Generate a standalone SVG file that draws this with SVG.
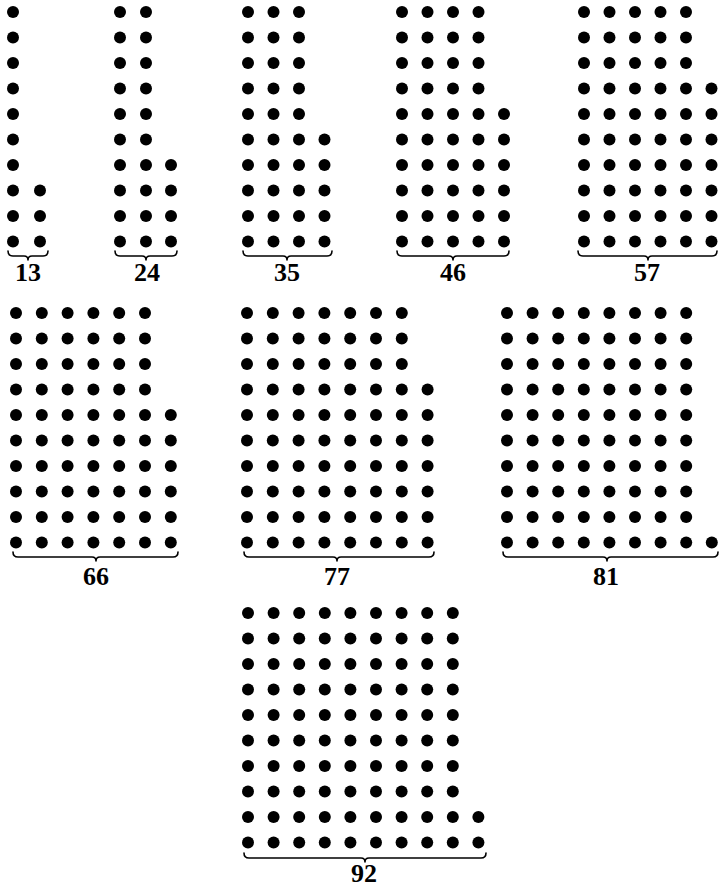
<svg xmlns="http://www.w3.org/2000/svg" xmlns:xlink="http://www.w3.org/1999/xlink" width="719" height="888" viewBox="0 0 719 888">
<style>
.d{fill:#000}
.lbl{font-family:"Liberation Serif","DejaVu Serif",serif;font-weight:bold;font-size:26px;fill:#000;text-anchor:middle}
.br{fill:none;stroke:#000;stroke-width:1.6;stroke-linecap:round;stroke-linejoin:round}
</style>
<defs>
<g id="c10" class="d"><circle cx="0" cy="0" r="6"/><circle cx="0" cy="25.5" r="6"/><circle cx="0" cy="51" r="6"/><circle cx="0" cy="76.5" r="6"/><circle cx="0" cy="102" r="6"/><circle cx="0" cy="127.5" r="6"/><circle cx="0" cy="153" r="6"/><circle cx="0" cy="178.5" r="6"/><circle cx="0" cy="204" r="6"/><circle cx="0" cy="229.5" r="6"/></g>
<g id="c7" class="d"><circle cx="0" cy="76.5" r="6"/><circle cx="0" cy="102" r="6"/><circle cx="0" cy="127.5" r="6"/><circle cx="0" cy="153" r="6"/><circle cx="0" cy="178.5" r="6"/><circle cx="0" cy="204" r="6"/><circle cx="0" cy="229.5" r="6"/></g>
<g id="c6" class="d"><circle cx="0" cy="102" r="6"/><circle cx="0" cy="127.5" r="6"/><circle cx="0" cy="153" r="6"/><circle cx="0" cy="178.5" r="6"/><circle cx="0" cy="204" r="6"/><circle cx="0" cy="229.5" r="6"/></g>
<g id="c5" class="d"><circle cx="0" cy="127.5" r="6"/><circle cx="0" cy="153" r="6"/><circle cx="0" cy="178.5" r="6"/><circle cx="0" cy="204" r="6"/><circle cx="0" cy="229.5" r="6"/></g>
<g id="c4" class="d"><circle cx="0" cy="153" r="6"/><circle cx="0" cy="178.5" r="6"/><circle cx="0" cy="204" r="6"/><circle cx="0" cy="229.5" r="6"/></g>
<g id="c3" class="d"><circle cx="0" cy="178.5" r="6"/><circle cx="0" cy="204" r="6"/><circle cx="0" cy="229.5" r="6"/></g>
<g id="c2" class="d"><circle cx="0" cy="204" r="6"/><circle cx="0" cy="229.5" r="6"/></g>
<g id="c1" class="d"><circle cx="0" cy="229.5" r="6"/></g>
</defs>

<g id="fig13">
<use href="#c10" x="13" y="12"/><use href="#c3" x="40" y="12"/>
<path class="br" d="M8,251 Q8,256 13,256 L24,256 Q28,256 28,260 Q28,256 32,256 L43,256 Q48,256 48,251"/>
<text class="lbl" x="28" y="281">13</text>
</g>

<g id="fig24">
<use href="#c10" x="120" y="12"/><use href="#c10" x="146" y="12"/><use href="#c4" x="171" y="12"/>
<path class="br" d="M115,251 Q115,256 120,256 L142,256 Q146,256 146,260 Q146,256 150,256 L172,256 Q177,256 177,251"/>
<text class="lbl" x="147" y="281">24</text>
</g>

<g id="fig35">
<use href="#c10" x="248" y="12"/><use href="#c10" x="273.5" y="12"/><use href="#c10" x="299" y="12"/><use href="#c5" x="324.5" y="12"/>
<path class="br" d="M243,251 Q243,256 248,256 L283,256 Q287,256 287,260 Q287,256 291,256 L327,256 Q332,256 332,251"/>
<text class="lbl" x="287" y="281">35</text>
</g>

<g id="fig46">
<use href="#c10" x="402" y="12"/><use href="#c10" x="427.5" y="12"/><use href="#c10" x="453" y="12"/><use href="#c10" x="478.5" y="12"/><use href="#c6" x="504" y="12"/>
<path class="br" d="M397,251 Q397,256 402,256 L449,256 Q453,256 453,260 Q453,256 457,256 L504,256 Q509,256 509,251"/>
<text class="lbl" x="453" y="281">46</text>
</g>

<g id="fig57">
<use href="#c10" x="584" y="12"/><use href="#c10" x="609.5" y="12"/><use href="#c10" x="635" y="12"/><use href="#c10" x="660.5" y="12"/><use href="#c10" x="686" y="12"/><use href="#c7" x="711.5" y="12"/>
<path class="br" d="M578,251 Q578,256 583,256 L644,256 Q648,256 648,260 Q648,256 652,256 L712,256 Q717,256 717,251"/>
<text class="lbl" x="647" y="281">57</text>
</g>

<g id="fig66">
<use href="#c10" x="16" y="313"/><use href="#c10" x="41.8" y="313"/><use href="#c10" x="67.6" y="313"/><use href="#c10" x="93.4" y="313"/><use href="#c10" x="119.2" y="313"/><use href="#c10" x="145" y="313"/><use href="#c6" x="170.8" y="313"/>
<path class="br" d="M13,552 Q13,557 18,557 L92,557 Q96,557 96,561 Q96,557 100,557 L173,557 Q178,557 178,552"/>
<text class="lbl" x="96" y="585">66</text>
</g>

<g id="fig77">
<use href="#c10" x="247" y="313"/><use href="#c10" x="272.8" y="313"/><use href="#c10" x="298.6" y="313"/><use href="#c10" x="324.4" y="313"/><use href="#c10" x="350.2" y="313"/><use href="#c10" x="376" y="313"/><use href="#c10" x="401.8" y="313"/><use href="#c7" x="427.6" y="313"/>
<path class="br" d="M244,552 Q244,557 249,557 L333,557 Q337,557 337,561 Q337,557 341,557 L429,557 Q434,557 434,552"/>
<text class="lbl" x="337" y="585">77</text>
</g>

<g id="fig81">
<use href="#c10" x="507" y="313"/><use href="#c10" x="532.6" y="313"/><use href="#c10" x="558.2" y="313"/><use href="#c10" x="583.8" y="313"/><use href="#c10" x="609.4" y="313"/><use href="#c10" x="635" y="313"/><use href="#c10" x="660.6" y="313"/><use href="#c10" x="686.2" y="313"/><use href="#c1" x="711.8" y="313"/>
<path class="br" d="M503,552 Q503,557 508,557 L603,557 Q607,557 607,561 Q607,557 611,557 L713,557 Q718,557 718,552"/>
<text class="lbl" x="606" y="585">81</text>
</g>

<g id="fig92">
<use href="#c10" x="248" y="613"/><use href="#c10" x="273.6" y="613"/><use href="#c10" x="299.2" y="613"/><use href="#c10" x="324.8" y="613"/><use href="#c10" x="350.4" y="613"/><use href="#c10" x="376" y="613"/><use href="#c10" x="401.6" y="613"/><use href="#c10" x="427.2" y="613"/><use href="#c10" x="452.8" y="613"/><use href="#c2" x="478.4" y="613"/>
<path class="br" d="M244,853 Q244,858 249,858 L361,858 Q365,858 365,862 Q365,858 369,858 L481,858 Q486,858 486,853"/>
<text class="lbl" x="364" y="882">92</text>
</g>
</svg>
